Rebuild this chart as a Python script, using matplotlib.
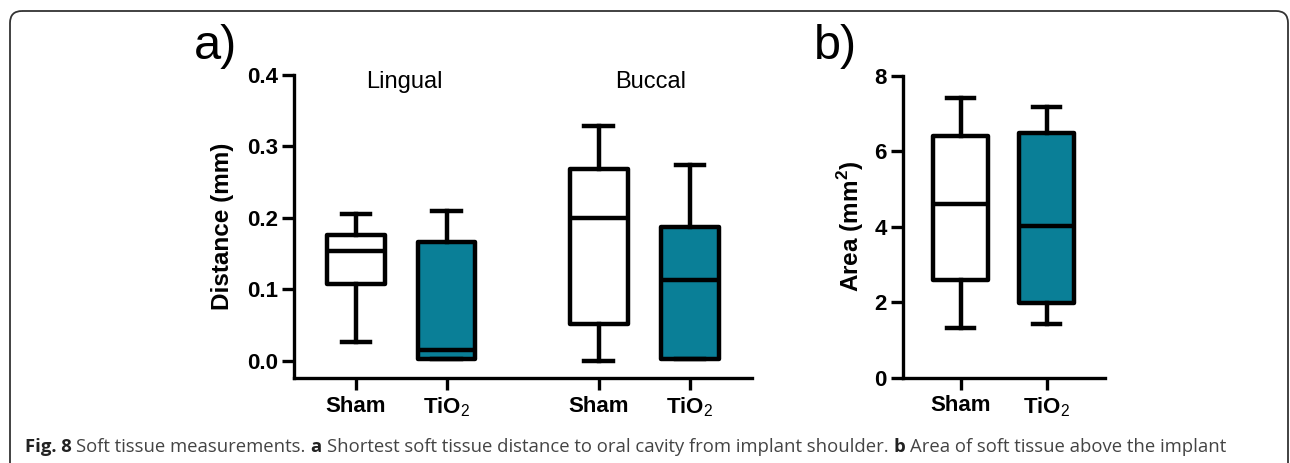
import matplotlib
matplotlib.use("Agg")
import matplotlib.pyplot as plt
from matplotlib.patches import FancyBboxPatch

plt.rcParams['font.family'] = ['Liberation Sans', 'DejaVu Sans']
plt.rcParams['mathtext.fontset'] = 'custom'
plt.rcParams['mathtext.rm'] = 'Liberation Sans'
plt.rcParams['mathtext.bf'] = 'Liberation Sans:bold'

# panel a: distance (mm), lingual and buccal
groups_a = ['Lingual', 'Buccal']
labels_a = ['Sham', 'TiO$_\\mathrm{2}$', 'Sham', 'TiO$_\\mathrm{2}$']
positions_a = [1, 2, 3.68, 4.69]
whislo_a = [0.027, 0.003, 0.000, 0.003]
q1_a = [0.107, 0.003, 0.052, 0.003]
med_a = [0.154, 0.015, 0.200, 0.113]
q3_a = [0.176, 0.166, 0.269, 0.188]
whishi_a = [0.206, 0.210, 0.329, 0.274]
colors_a = ['white', '#0a7f97', 'white', '#0a7f97']

# panel b: area (mm2)
labels_b = ['Sham', 'TiO$_\\mathrm{2}$']
positions_b = [1, 2]
whislo_b = [1.31, 1.41]
q1_b = [2.59, 1.97]
med_b = [4.59, 4.02]
q3_b = [6.40, 6.49]
whishi_b = [7.42, 7.18]
colors_b = ['white', '#0a7f97']

W, H = 1290, 463
fig = plt.figure(figsize=(W / 100, H / 100), dpi=100)

# frame around the figure, in pixel units
bg = fig.add_axes([0, 0, 1, 1], zorder=-1)
bg.set_xlim(0, W)
bg.set_ylim(H, 0)
bg.axis('off')
bg.add_patch(FancyBboxPatch((10, 11), 1278, 480, boxstyle='round,pad=0,rounding_size=12',
                            fill=False, ec='#333333', lw=1.3))


def boxes(ax, pos, lo, q1, med, q3, hi, colors):
    stats = [dict(whislo=a, q1=b, med=c, q3=d, whishi=e) for a, b, c, d, e in zip(lo, q1, med, q3, hi)]
    lw = 3.2
    art = ax.bxp(stats, positions=pos, widths=0.64, capwidths=0.32, patch_artist=True, showfliers=False,
                 boxprops=dict(lw=lw, ec='black', joinstyle='round'),
                 whiskerprops=dict(lw=lw, color='black'),
                 capprops=dict(lw=lw, color='black'),
                 medianprops=dict(lw=lw, color='black'))
    for patch, c in zip(art['boxes'], colors):
        patch.set_facecolor(c)


def style(ax):
    for s in ['top', 'right']:
        ax.spines[s].set_visible(False)
    for s in ['left', 'bottom']:
        ax.spines[s].set_linewidth(2.4)
    ax.tick_params(width=2.4, length=8.6, pad=3, labelsize=16)
    ax.tick_params(axis='x', labelsize=16, pad=4)
    for t in ax.get_yticklabels() + ax.get_xticklabels():
        t.set_fontweight('bold')


ax1 = fig.add_axes([294 / W, 1 - 378 / H, 458 / W, 303 / H])
boxes(ax1, positions_a, whislo_a, q1_a, med_a, q3_a, whishi_a, colors_a)
ax1.set_xlim(0.315, 5.375)
ax1.set_ylim(-0.024, 0.4)
ax1.set_yticks([0.0, 0.1, 0.2, 0.3, 0.4])
ax1.set_yticklabels(['0.0', '0.1', '0.2', '0.3', '0.4'])
ax1.set_xticks(positions_a)
ax1.set_xticklabels(labels_a)
style(ax1)
ax1.set_ylabel('Distance (mm)', fontsize=17.5, fontweight='bold', va='center')
ax1.yaxis.set_label_coords(-0.157, 0.5)
ax1.text(0.242, 0.977, groups_a[0], transform=ax1.transAxes, fontsize=17, ha='center', va='center')
ax1.text(0.779, 0.977, groups_a[1], transform=ax1.transAxes, fontsize=17, ha='center', va='center')

ax2 = fig.add_axes([902.7 / W, 1 - 377.7 / H, 202.3 / W, 302 / H])
boxes(ax2, positions_b, whislo_b, q1_b, med_b, q3_b, whishi_b, colors_b)
ax2.set_xlim(0.326, 2.678)
ax2.set_ylim(0, 8)
ax2.set_yticks([0, 2, 4, 6, 8])
ax2.set_xticks(positions_b)
ax2.set_xticklabels(labels_b)
style(ax2)
ax2.set_ylabel('Area (mm$^\\mathbf{2}$)', fontsize=17.5, fontweight='bold', va='center')
ax2.yaxis.set_label_coords(-0.256, 0.502)

for ax in (ax1, ax2):
    ax.patch.set_alpha(0)
    for t in ax.get_xticklabels():
        t.set_fontweight('bold')

fig.text(216 / W, 1 - 59 / H, 'a)', fontsize=35, ha='center', va='baseline')
fig.text(835 / W, 1 - 59 / H, 'b)', fontsize=35, ha='center', va='baseline')

# caption, mixed bold and regular pieces laid out one after another
caption = [('Fig. 8', 'bold'), ('Soft tissue measurements.', 'normal'), ('a', 'bold'),
           ('Shortest soft tissue distance to oral cavity from implant shoulder.', 'normal'),
           ('b', 'bold'), ('Area of soft tissue above the implant', 'normal')]
r = fig.canvas.get_renderer()
x = 25.0
cap_size = 13.3
probe = fig.text(0, 0, 'a a', fontsize=cap_size, family='Open Sans')
w2 = probe.get_window_extent(r).width
probe.set_text('aa')
space = w2 - probe.get_window_extent(r).width
probe.remove()
for txt, weight in caption:
    col = '#222222' if weight == 'bold' else '#444444'
    t = fig.text(x / W, 1 - 452 / H, txt, fontsize=cap_size, family='Open Sans', fontweight=weight,
                 color=col, ha='left', va='baseline')
    x += t.get_window_extent(r).width + space

fig.savefig('out.png', dpi=100)
